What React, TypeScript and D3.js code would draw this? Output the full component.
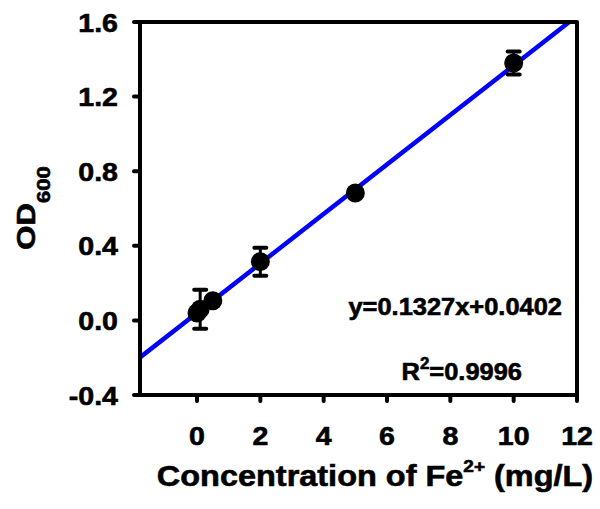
import React from "react";
import * as d3 from "d3";

const concentrations = [0, 0.1, 0.5, 2, 5, 10];
const odValues = [0.04, 0.06, 0.105, 0.315, 0.683, 1.38];
const odErrors = [0.0, 0.105, 0.0, 0.075, 0.0, 0.062];
const xTicks = [0, 2, 4, 6, 8, 10, 12];
const yTicks = [-0.4, 0.0, 0.4, 0.8, 1.2, 1.6];
const slope = 0.1327;
const intercept = 0.0402;
const r2 = "0.9996";

const W = 600;
const H = 509;
const FONT = "'Liberation Sans', Arial, Helvetica, sans-serif";

export default function App() {
  const x = d3.scaleLinear().domain([-1.8, 12]).range([140, 577]);
  const y = d3.scaleLinear().domain([-0.4, 1.6]).range([395, 22]);
  const [x0, x1] = x.domain();
  const fitLine = d3.line<number>().x((d) => x(d)).y((d) => y(slope * d + intercept));
  const sx = 1.12;

  return (
    <svg width={W} height={H} style={{ position: "absolute", left: 0, top: 0, background: "#fff" }} fontFamily={FONT} fontWeight="bold">
      <defs>
        <clipPath id="plotclip">
          <rect x={x(x0)} y={y(1.6)} width={x(x1) - x(x0)} height={y(-0.4) - y(1.6)} />
        </clipPath>
      </defs>
      <rect x={0} y={0} width={W} height={H} fill="#fff" />
      {/* fit line */}
      <path d={fitLine([x0, x1]) || ""} stroke="#0000ff" strokeWidth={4.5} fill="none" clipPath="url(#plotclip)" />
      {/* error bars */}
      {concentrations.map((c, i) =>
        odErrors[i] > 0 ? (
          <g key={"e" + i} stroke="#000" strokeLinecap="round">
            <line x1={x(c)} x2={x(c)} y1={y(odValues[i] - odErrors[i])} y2={y(odValues[i] + odErrors[i])} strokeWidth={3} />
            <line x1={x(c) - 6} x2={x(c) + 6} y1={y(odValues[i] + odErrors[i])} y2={y(odValues[i] + odErrors[i])} strokeWidth={4} />
            <line x1={x(c) - 6} x2={x(c) + 6} y1={y(odValues[i] - odErrors[i])} y2={y(odValues[i] - odErrors[i])} strokeWidth={4} />
          </g>
        ) : null
      )}
      {/* points */}
      {concentrations.map((c, i) => (
        <circle key={"p" + i} cx={x(c)} cy={y(odValues[i])} r={9.5} fill="#000" />
      ))}
      {/* frame */}
      <rect x={x(x0)} y={y(1.6)} width={x(x1) - x(x0)} height={y(-0.4) - y(1.6)} fill="none" stroke="#000" strokeWidth={4} strokeLinejoin="round" />
      <g stroke="#000" strokeWidth={0.6} fill="#000">
        {/* y ticks */}
        {yTicks.map((t) => (
          <g key={"yt" + t}>
            <line x1={x(x0) - 6} x2={x(x0)} y1={y(t)} y2={y(t)} stroke="#000" strokeWidth={4} strokeLinecap="round" />
            <text transform={`translate(118,${y(t) + 9.5}) scale(${sx},1)`} textAnchor="end" fontSize={25.5}>
              {t.toFixed(1)}
            </text>
          </g>
        ))}
        {/* x ticks */}
        {xTicks.map((t) => (
          <g key={"xt" + t}>
            <line x1={x(t)} x2={x(t)} y1={y(-0.4)} y2={y(-0.4) + 6} stroke="#000" strokeWidth={4} strokeLinecap="round" />
            <text transform={`translate(${x(t)},445) scale(${sx},1)`} textAnchor="middle" fontSize={25.5}>
              {t}
            </text>
          </g>
        ))}
        {/* x title */}
        <text transform={`translate(375,486) scale(1.12,1)`} textAnchor="middle" fontSize={29}>
          Concentration of Fe<tspan fontSize={17} dy={-14}>2+</tspan>
          <tspan dy={14}> (mg/L)</tspan>
        </text>
        {/* y title */}
        <text transform={`translate(35,208) rotate(-90) scale(1.22,1)`} textAnchor="middle" fontSize={25.5}>
          OD<tspan fontSize={18} dy={15}>600</tspan>
        </text>
        {/* annotations */}
        <text transform={`translate(562,315) scale(1.06,1)`} textAnchor="end" fontSize={24}>
          y=0.1327x+0.0402
        </text>
        <text transform={`translate(522,380) scale(1.06,1)`} textAnchor="end" fontSize={24}>
          R<tspan fontSize={16} dy={-11}>2</tspan>
          <tspan dy={11}>={r2}</tspan>
        </text>
      </g>
    </svg>
  );
}
